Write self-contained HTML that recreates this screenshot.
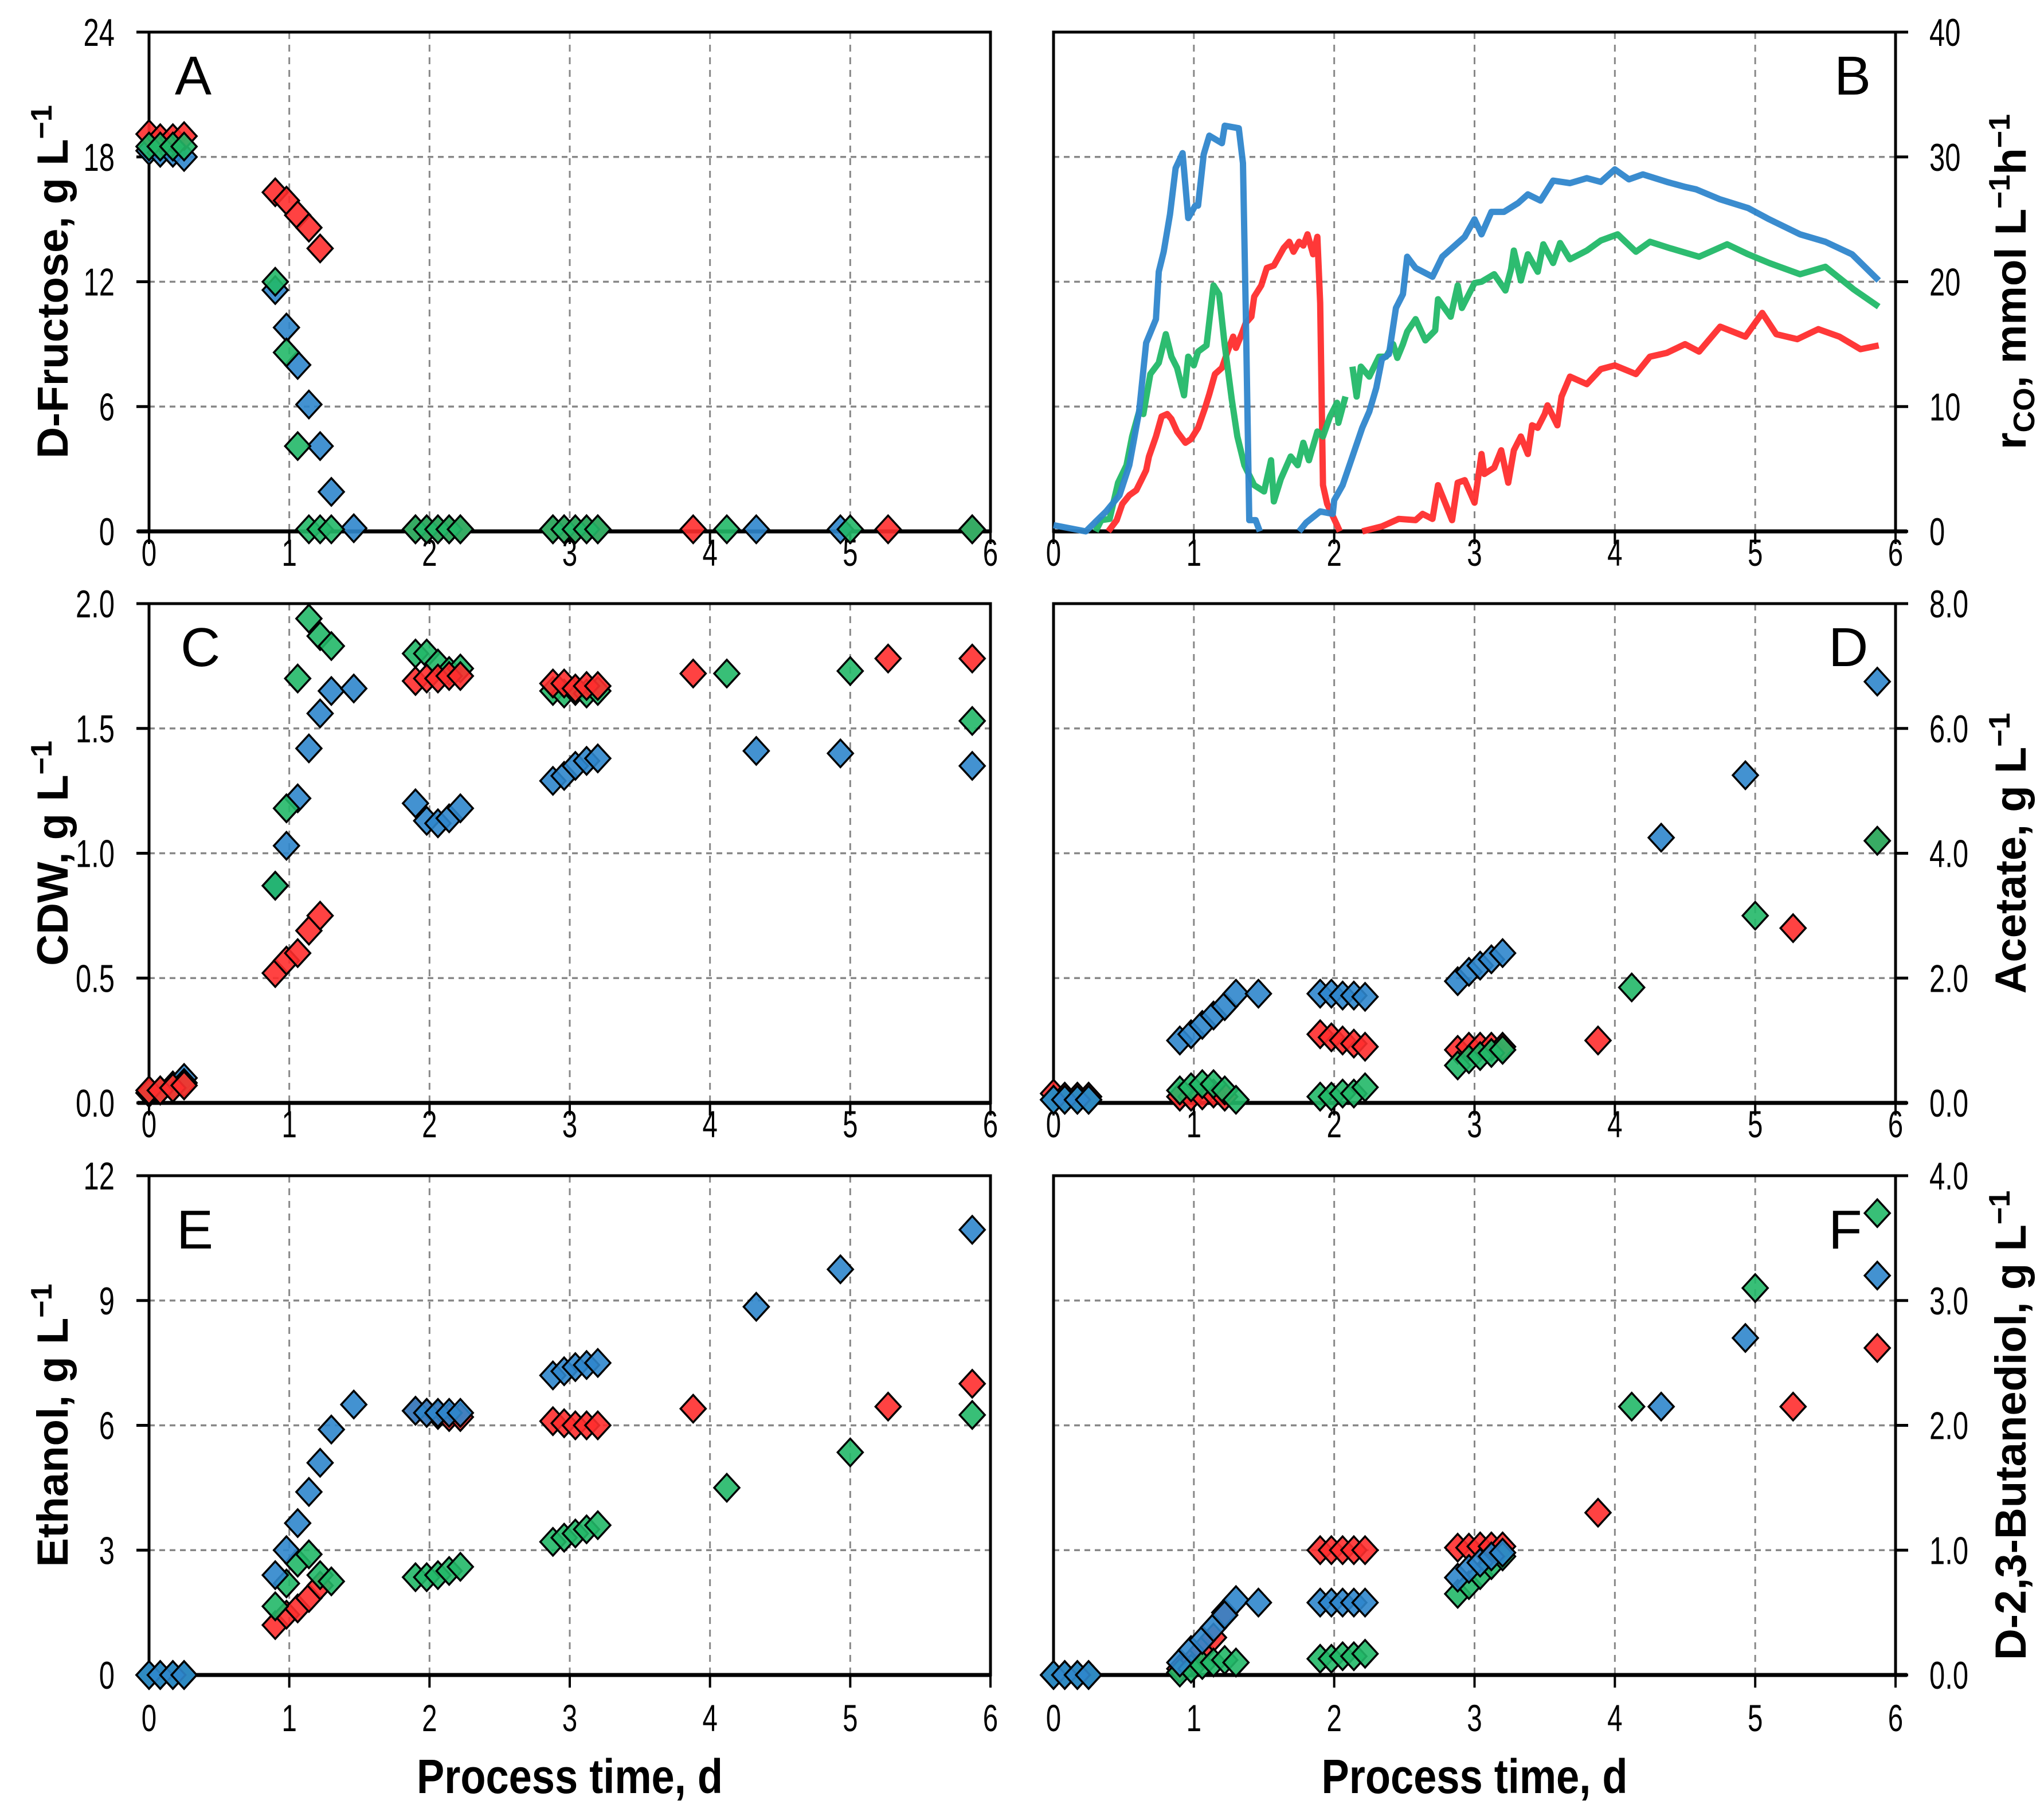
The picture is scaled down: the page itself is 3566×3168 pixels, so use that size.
<!DOCTYPE html>
<html><head><meta charset="utf-8">
<style>
html,body{margin:0;padding:0;background:#fff;}
svg{display:block;}
text{font-family:"Liberation Sans",sans-serif;}
</style></head>
<body>
<svg id="fig" width="3566" height="3168" viewBox="0 0 3566 3168" xmlns="http://www.w3.org/2000/svg"></svg>
<script>
// ---- shared sampling times (days) ----
const tRed   = [0,.08,.17,.25, .9,.98,1.06,1.14,1.22, 1.9,1.98,2.06,2.14,2.22, 2.88,2.96,3.04,3.12,3.2, 3.88,5.27,5.87];
const tBlue  = [0,.08,.17,.25, .9,.98,1.06,1.14,1.22,1.3,1.46, 1.9,1.98,2.06,2.14,2.22, 2.88,2.96,3.04,3.12,3.2, 4.33,4.93,5.87];
const tGreen = [0,.08,.17,.25, .9,.98,1.06,1.14,1.22,1.3, 1.9,1.98,2.06,2.14,2.22, 2.88,2.96,3.04,3.12,3.2, 4.12,5.0,5.87];
// ---- A: D-fructose ----
const aRed   = [19.1,18.9,18.9,19.0, 16.3,15.9,15.2,14.6,13.6, .1,.1,.1,.1,.1, .1,.1,.1,.1,.1, .1,.1,.1];
const aBlue  = [18.3,18.2,18.2,18.0, 11.6,9.8,8.0,6.1,4.1,1.9,.15, .1,.1,.1,.1,.1, .1,.1,.1,.1,.1, .1,.1,.1];
const aGreen = [18.5,18.5,18.5,18.5, 12.0,8.6,4.1,.1,.1,.1, .1,.1,.1,.1,.1, .1,.1,.1,.1,.1, .1,.1,.1];
// ---- C: CDW ----
const cRed   = [.05,.05,.06,.07, .52,.57,.6,.69,.75, 1.69,1.7,1.7,1.71,1.71, 1.68,1.68,1.66,1.67,1.67, 1.72,1.78,1.78];
const cBlue  = [.04,.05,.07,.1, .87,1.03,1.22,1.42,1.56,1.65,1.66, 1.2,1.13,1.12,1.14,1.18, 1.29,1.31,1.35,1.37,1.38, 1.41,1.4,1.35];
const cGreen = [.04,.05,.06,.08, .87,1.18,1.7,1.94,1.87,1.83, 1.8,1.8,1.76,1.73,1.74, 1.65,1.64,1.65,1.64,1.65, 1.72,1.73,1.53];
// ---- D: acetate ----
const dRed   = [.15,.1,.1,.1, .1,.1,.12,.15,.1, 1.1,1.05,1.0,.95,.9, .85,.9,.9,.9,.9, 1.0,2.8,4.2];
const dBlue  = [.05,.05,.05,.05, 1.0,1.1,1.25,1.4,1.55,1.75,1.75, 1.75,1.75,1.72,1.72,1.7, 1.95,2.1,2.2,2.3,2.4, 4.25,5.25,6.75];
const dGreen = [.05,.05,.05,.05, .2,.25,.3,.3,.2,.05, .1,.1,.15,.15,.25, .6,.7,.75,.8,.85, 1.85,3.0,4.2];
// ---- E: ethanol ----
const eRed   = [0,0,0,0, 1.2,1.45,1.6,1.85,2.15, 6.35,6.3,6.25,6.2,6.2, 6.1,6.05,6.0,6.0,6.0, 6.4,6.45,7.0];
const eBlue  = [0,0,0,0, 2.4,3.0,3.65,4.4,5.1,5.9,6.5, 6.35,6.3,6.3,6.3,6.3, 7.2,7.3,7.4,7.45,7.5, 8.85,9.75,10.7];
const eGreen = [0,0,0,0, 1.65,2.2,2.7,2.9,2.4,2.25, 2.35,2.35,2.4,2.5,2.6, 3.2,3.3,3.4,3.5,3.6, 4.5,5.35,6.25];
// ---- F: butanediol ----
const fRed   = [0,0,0,0, .05,.1,.2,.3,.5, 1.0,1.0,1.0,1.0,1.0, 1.02,1.02,1.03,1.03,1.03, 1.3,2.15,2.62];
const fBlue  = [0,0,0,0, .1,.2,.28,.38,.48,.6,.58, .58,.58,.58,.58,.58, .78,.85,.9,.95,.98, 2.15,2.7,3.2];
const fGreen = [0,0,0,0, .02,.05,.08,.1,.12,.1, .13,.13,.15,.15,.17, .65,.72,.8,.88,.95, 2.15,3.1,3.7];
// ---- B: rCO time series (null = gap) ----
const bBlueT = [0,.23,.375,.47,.54,.61,.66,.73,.75,.785,.83,.87,.92,.96,1.01,1.03,1.07,1.11,1.2,1.22,1.32,1.35,1.37,1.395,1.44,1.47,null,
  1.75,1.8,1.9,1.99,2.0,2.06,2.13,2.2,2.25,2.3,2.34,2.39,2.44,2.49,2.52,2.58,2.7,2.77,2.84,2.93,3.0,3.05,3.12,3.21,3.31,3.38,3.47,3.56,3.68,3.8,3.9,4.0,4.1,4.2,4.37,4.5,4.58,4.75,4.95,5.1,5.32,5.5,5.69,5.88];
const bBlueV = [.5,0,1.6,2.9,5.3,9.6,15.1,17,20.8,22.4,25.4,29.1,30.3,25.1,26.1,26.1,30.2,31.7,31.1,32.5,32.3,29.5,17.6,.9,.9,0,null,
  0,.7,1.6,1.4,2.5,3.7,6,8.3,9.6,11.5,13.8,14.2,17.9,19,22,21.1,20.4,22,22.7,23.6,25,23.8,25.6,25.6,26.3,27,26.5,28.1,27.9,28.3,28.0,29,28.2,28.6,28,27.6,27.4,26.6,25.9,25.0,23.8,23.2,22.2,20.1];
const bGreenT = [.3,.34,.4,.46,.52,.56,.61,.64,.69,.75,.8,.84,.88,.93,.96,1.0,1.03,1.09,1.14,1.18,1.22,1.27,1.31,1.36,1.43,1.5,1.55,1.57,1.62,1.69,1.74,1.78,1.82,1.88,1.92,1.97,2.02,2.03,2.08,null,
  2.13,2.16,2.19,2.25,2.32,2.37,2.42,2.45,2.49,2.52,2.58,2.65,2.72,2.74,2.83,2.88,2.91,3.0,3.05,3.14,3.22,3.26,3.28,3.33,3.38,3.45,3.49,3.56,3.61,3.68,3.8,3.9,4.02,4.15,4.25,4.39,4.6,4.8,4.95,5.1,5.32,5.5,5.7,5.88];
const bGreenV = [0,.9,1.0,3.9,5.3,7.6,9.6,9.4,12.6,13.5,15.8,14,13.1,10.9,14,13.3,14.4,14.9,19.7,19,14.9,10.6,7.6,5.3,3.7,3.2,5.7,2.4,4.2,6,5.3,7.1,5.7,8.0,7.6,9.2,10.3,8.7,10.8,null,
  13.2,10.8,13.2,12.4,14,14,15,13.9,15,16,17,15.3,16.1,18.6,17.2,19.7,17.9,19.9,20,20.6,19.3,21,22.5,20.1,22.2,20.8,23,21.5,23.1,21.8,22.5,23.3,23.8,22.4,23.2,22.7,22.0,23.0,22.2,21.5,20.6,21.2,19.4,18];
const bRedT = [.39,.45,.49,.54,.59,.63,.66,.68,.73,.77,.81,.84,.88,.94,.98,1.03,1.08,1.11,1.15,1.2,1.24,1.28,1.3,1.34,1.37,1.41,1.43,1.48,1.52,1.57,1.64,1.68,1.71,1.75,1.78,1.81,1.85,1.88,1.9,1.92,1.95,2.02,2.04,null,
  2.2,2.34,2.46,2.58,2.63,2.7,2.74,2.79,2.84,2.88,2.93,3.0,3.05,3.07,3.14,3.19,3.24,3.28,3.33,3.38,3.41,3.45,3.5,3.52,3.59,3.62,3.68,3.8,3.9,4.0,4.15,4.25,4.37,4.5,4.6,4.75,4.93,5.05,5.15,5.3,5.45,5.6,5.75,5.88];
const bRedV = [0,.9,2.2,2.9,3.3,4.2,4.9,6,7.6,9.2,9.4,9,8,7.1,7.4,8.3,9.9,11,12.6,13.1,14.4,15.6,14.7,15.8,16.7,17.2,18.8,19.7,21.1,21.3,22.7,23.2,22.4,23.2,22.9,23.8,22.2,23.6,18.3,3.7,2.2,.5,0,null,
  0,.4,1.0,.9,1.4,1.0,3.7,2.3,.9,3.9,4.1,2.3,6.2,4.6,5.1,6.5,3.9,6.5,7.6,6.2,8.5,8.3,9.4,10.1,8.5,10.8,12.4,11.8,13.0,13.3,12.6,14.0,14.3,15.0,14.4,16.4,15.6,17.5,15.8,15.4,16.2,15.6,14.6,14.9];

const NS = "http://www.w3.org/2000/svg";
const svg = document.getElementById('fig');
function mk(tag, attrs, parent){
  const e = document.createElementNS(NS, tag);
  for (const k in attrs) e.setAttribute(k, attrs[k]);
  (parent||svg).appendChild(e);
  return e;
}
const COL = {red:'#ff2d2d', blue:'#2f86cc', green:'#22b868'};
const LX0=260, LX1=1728, RX0=1838, RX1=3307;
const ROWS=[[56,927],[1053,1924],[2051,2922]];
const panels = [
  {id:'A', x0:LX0,x1:LX1,y0:ROWS[0][0],y1:ROWS[0][1],ymax:24,ticks:[0,6,12,18,24],dec:0,side:'L',title:'D-Fructose, g L',
   series:[['blue',tBlue,aBlue],['red',tRed,aRed],['green',tGreen,aGreen]], lx:305, ly:165},
  {id:'B', x0:RX0,x1:RX1,y0:ROWS[0][0],y1:ROWS[0][1],ymax:40,ticks:[0,10,20,30,40],dec:0,side:'R',rco:true,
   lines:[['red',bRedT,bRedV],['green',bGreenT,bGreenV],['blue',bBlueT,bBlueV]], lx:3200, ly:165},
  {id:'C', x0:LX0,x1:LX1,y0:ROWS[1][0],y1:ROWS[1][1],ymax:2,ticks:[0,.5,1,1.5,2],dec:1,side:'L',title:'CDW, g L',
   series:[['blue',tBlue,cBlue],['green',tGreen,cGreen],['red',tRed,cRed]], lx:315, ly:1162},
  {id:'D', x0:RX0,x1:RX1,y0:ROWS[1][0],y1:ROWS[1][1],ymax:8,ticks:[0,2,4,6,8],dec:1,side:'R',title:'Acetate, g L',
   series:[['red',tRed,dRed],['green',tGreen,dGreen],['blue',tBlue,dBlue]], lx:3190, ly:1162},
  {id:'E', x0:LX0,x1:LX1,y0:ROWS[2][0],y1:ROWS[2][1],ymax:12,ticks:[0,3,6,9,12],dec:0,side:'L',title:'Ethanol, g L',
   series:[['red',tRed,eRed],['green',tGreen,eGreen],['blue',tBlue,eBlue]], lx:308, ly:2178},
  {id:'F', x0:RX0,x1:RX1,y0:ROWS[2][0],y1:ROWS[2][1],ymax:4,ticks:[0,1,2,3,4],dec:1,side:'R',title:'D-2,3-Butanediol, g L',
   series:[['red',tRed,fRed],['green',tGreen,fGreen],['blue',tBlue,fBlue]], lx:3190, ly:2178},
];
const xTicks=[0,1,2,3,4,5,6];

function sx(p,t){ return p.x0 + t/6*(p.x1-p.x0); }
function sy(p,v){ return p.y1 - v/p.ymax*(p.y1-p.y0); }

panels.forEach((p,pi)=>{
  const g = mk('g',{});
  
  
  xTicks.slice(1,6).forEach(t=>{
    const l = mk('line',{x1:sx(p,t),x2:sx(p,t),y1:p.y0,y2:p.y1,stroke:'#888','stroke-width':3,'stroke-dasharray':'12,10'},g);
    
    
  });
  p.ticks.slice(1,p.ticks.length-1).forEach(v=>{
    const l = mk('line',{x1:p.x0,x2:p.x1,y1:sy(p,v),y2:sy(p,v),stroke:'#888','stroke-width':3.5,'stroke-dasharray':'10,8'},g);
    
    
  });
  const fr = mk('rect',{x:p.x0,y:p.y0,width:p.x1-p.x0,height:p.y1-p.y0,fill:'none',stroke:'#000','stroke-width':5},g);
  
  
  const ax = mk('line',{x1:p.x0-(p.side==='L'?20:0),x2:p.x1+(p.side==='R'?20:0),y1:p.y1,y2:p.y1,stroke:'#000','stroke-width':7},g);
  
  
  p.ticks.forEach(v=>{
    const y = sy(p,v);
    const xa = p.side==='L'? p.x0 : p.x1;
    const xt = p.side==='L'? p.x0-22 : p.x1+22;
    mk('line',{x1:xa,x2:xt,y1:y,y2:y,stroke:'#000','stroke-width':5},g);
    const lab = p.dec ? v.toFixed(1) : String(v);
    const tx = p.side==='L'? 200 : 3366;
    const tt = mk('text',{transform:`translate(${tx},${y+24}) scale(0.72,1)`,'font-size':68,'text-anchor':p.side==='L'?'end':'start',fill:'#000'},g);
    tt.textContent = lab;
    
    
  });
  const labOff = pi>=4 ? 98 : 60;
  xTicks.forEach(t=>{
    const x = sx(p,t);
    mk('line',{x1:x,x2:x,y1:p.y1,y2:p.y1+22,stroke:'#000','stroke-width':4},g);
    const tt = mk('text',{transform:`translate(${x},${p.y1+labOff}) scale(0.72,1)`,'font-size':66,'text-anchor':'middle',fill:'#000'},g);
    tt.textContent = String(t);
    
    
  });
  if (p.series) p.series.forEach(([c,ts,vs])=>{
    ts.forEach((t,i)=>{
      const x = sx(p,t), y = sy(p,vs[i]);
      const d = mk('path',{d:`M${x} ${y-24}L${x+22} ${y}L${x} ${y+24}L${x-22} ${y}Z`,fill:COL[c],'fill-opacity':0.9,stroke:'#000','stroke-width':3.5},g);
      
      
    });
  });
  if (p.lines) p.lines.forEach(([c,ts,vs])=>{
    let dstr='', pen=false;
    ts.forEach((t,i)=>{
      if (t===null || vs[i]===null){ pen=false; return; }
      dstr += (pen?'L':'M') + sx(p,t).toFixed(1)+' '+sy(p,vs[i]).toFixed(1);
      pen=true;
    });
    const pl = mk('path',{d:dstr,fill:'none',stroke:COL[c],'stroke-width':11,'stroke-linejoin':'round','stroke-opacity':0.95},g);
    
    
  });
  const L = mk('text',{x:p.lx,y:p.ly,'font-size':96,fill:'#000'},g);
  L.textContent = p.id;
  
  
  const mid = (p.y0+p.y1)/2;
  const bx = p.side==='L'? 118 : 3534;
  const T = mk('text',{transform:`translate(${bx},${mid}) rotate(-90)`,'font-size':76,'font-weight':'bold','text-anchor':'middle',fill:'#000'},g);
  if (p.rco){
    T.innerHTML = '<tspan>r</tspan><tspan dy="15" font-size="52">CO</tspan><tspan dy="-15">, mmol L</tspan><tspan dy="-28" font-size="52">−1</tspan><tspan dy="28">h</tspan><tspan dy="-28" font-size="52">−1</tspan>';
  } else {
    T.innerHTML = '<tspan>'+p.title+'</tspan><tspan dy="-28" font-size="52">−1</tspan>';
  }
  
  
});
[[(LX0+LX1)/2],[(RX0+RX1)/2]].forEach(([cx],i)=>{
  const t = mk('text',{transform:`translate(${cx},3128) scale(0.86,1)`,'font-size':84,'font-weight':'bold','text-anchor':'middle',fill:'#000'});
  t.textContent = 'Process time, d';
  
  
});
</script>
</body></html>
